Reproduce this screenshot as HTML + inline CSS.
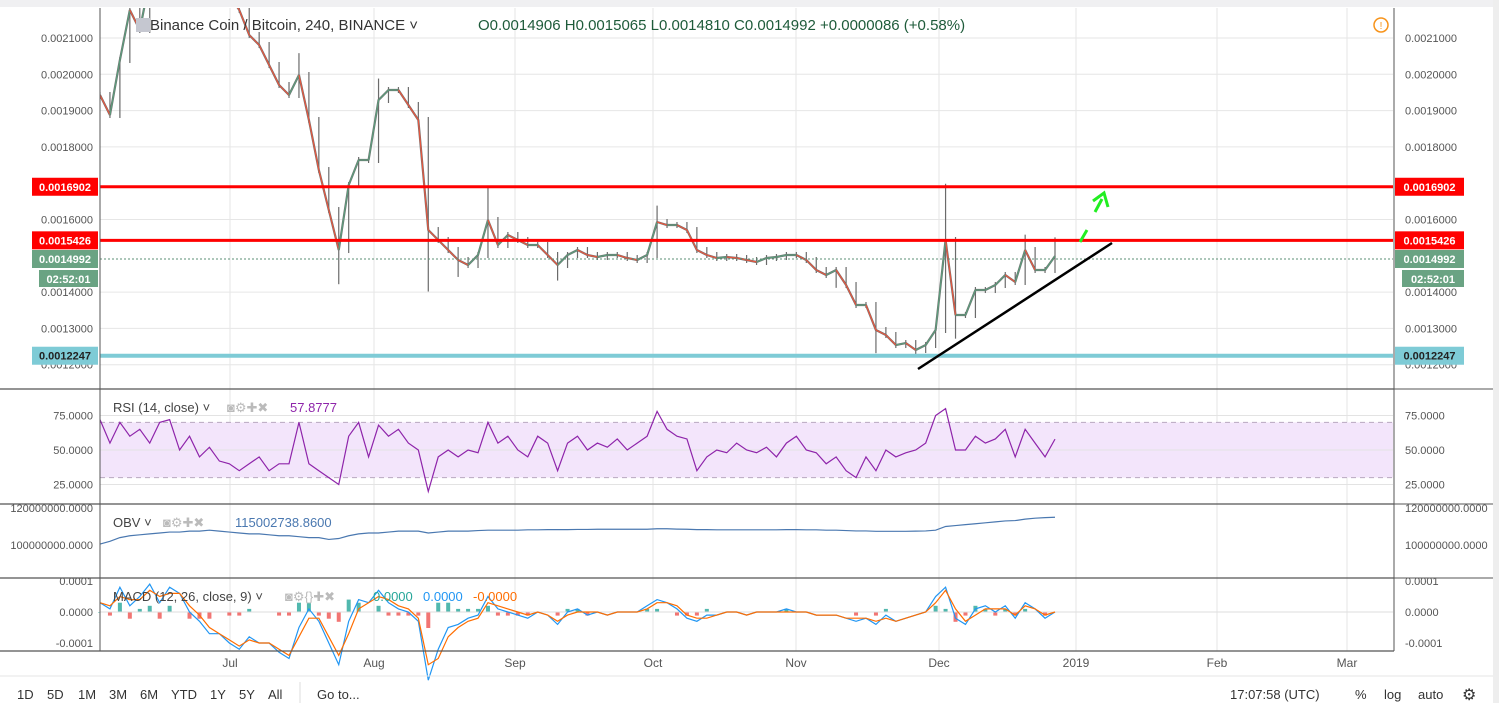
<!DOCTYPE html>
<html><head><meta charset="utf-8"><style>
body{margin:0;background:#fff;font-family:"Liberation Sans",sans-serif;}
#wrap{position:relative;width:1499px;height:703px;overflow:hidden;background:#fff}
svg text{font-family:"Liberation Sans",sans-serif}
</style></head><body>
<div id="wrap">
<svg id="c" width="1499" height="703">
<defs><clipPath id="mainclip"><rect x="100" y="8" width="1294" height="381"/></clipPath></defs>
</svg>
</div>
<script>
// ---- data ----
const closes=[0.0019430,0.0018879,0.0020394,0.0021771,0.0021220,0.0022598,0.0022873,0.0022735,0.0022460,0.0022598,0.0022322,0.0022598,0.0022322,0.0022185,0.0021771,0.0021083,0.0020807,0.0020256,0.0019705,0.0019430,0.0019981,0.0018741,0.0017363,0.0016261,0.0015159,0.0016950,0.0017639,0.0017639,0.0019292,0.0019567,0.0019567,0.0019154,0.0018741,0.0015710,0.0015435,0.0015159,0.0014884,0.0014746,0.0015022,0.0015986,0.0015297,0.0015573,0.0015435,0.0015297,0.0015297,0.0015022,0.0014746,0.0015022,0.0015159,0.0015022,0.0014967,0.0015022,0.0015022,0.0014939,0.0014884,0.0015022,0.0015931,0.0015848,0.0015848,0.0015710,0.0015159,0.0015022,0.0014939,0.0014967,0.0014939,0.0014884,0.0014829,0.0014939,0.0014967,0.0015022,0.0015022,0.0014884,0.0014609,0.0014471,0.0014609,0.0014195,0.0013644,0.0013644,0.0012955,0.0012818,0.0012542,0.0012597,0.0012404,0.0012542,0.0012955,0.0015435,0.0013369,0.0013369,0.0014057,0.0014057,0.0014195,0.0014471,0.0014278,0.0015159,0.0014609,0.0014609,0.0014992];
// notable wick extremes (index -> price)
const highIdx=[20,28,33,39,56,85,93,96];
const highVal=[0.0020500,0.0019800,0.0016950,0.0016800,0.0016300,0.0016902,0.0015500,0.0015426];
const lowIdx=[24,33,36,46,74,78,82,86];
const lowVal=[0.0014300,0.0014100,0.0014500,0.0014400,0.0014200,0.0012400,0.0012300,0.0012800];
const rsi=[72,55,70,60,65,55,70,72,50,60,45,52,42,40,35,40,45,35,40,40,70,40,35,30,25,60,70,45,68,60,65,55,50,20,45,50,45,50,48,70,55,60,50,45,60,55,35,55,60,50,55,52,58,50,55,60,78,65,60,58,35,45,50,48,55,50,48,52,45,55,60,50,48,40,45,35,30,45,35,50,45,48,50,55,75,80,50,50,60,55,58,65,45,65,55,45,57.88];
const obv=[100.5,102,104,105,105.5,106,106.5,107,107,107.5,107.5,108,107.5,107,106.5,106,106,105.5,105,105,104.5,104,104,103,103.5,105,106,106.5,106.5,107,107.5,107.5,107.5,106.5,107,107.5,107.5,107.5,107.8,108,108,108,108,108.2,108.2,108.3,108.3,108.3,108.4,108.4,108.5,108.5,108.5,108.5,108.5,108.5,108.8,108.8,108.6,108.5,108.3,108.3,108.2,108.2,108.2,108.2,108.2,108.2,108.2,108.3,108.3,108.2,108.2,108,108,107.8,107.6,107.6,107.4,107.4,107.4,107.4,107.5,107.6,108,110,110.5,111,111.5,112,112.5,113,113.2,114,114.5,114.8,115.0];
const macd=[3,1,8,2,5,9,3,8,6,0,-3,-7,-7,-10,-12,-8,-10,-10,-13,-15,-5,1,-3,-10,-17,-3,4,3,7,3,1,0,-3,-22,-12,-5,-4,-2,-1,5,1,0,-1,-2,0,-1,-4,0,1,-1,0,-1,0,0,0,2,4,3,1,-2,-3,-1,-1,0,0,-1,0,0,0,1,0,0,-1,-1,-1,-2,-3,-2,-4,-1,-3,-2,-1,0,5,8,-2,-4,1,2,0,2,-2,3,1,-2,0];
const signal=[3,2,5,4,4,7,5,6,6,2,-1,-5,-7,-9,-11,-9,-10,-10,-12,-14,-8,-2,-2,-8,-14,-7,1,3,5,4,2,1,-2,-17,-15,-8,-5,-3,-2,3,2,1,0,-1,0,-1,-3,-1,0,0,0,-1,0,0,0,1,3,3,2,-1,-2,-2,-1,0,0,-1,0,0,0,0,0,0,-1,-1,-1,-2,-2,-2,-3,-2,-3,-2,-1,0,3,7,1,-3,-1,1,1,1,-1,2,1,-1,0];
const monthLabels=["Jul","Aug","Sep","Oct","Nov","Dec","2019","Feb","Mar"];
const monthIdx=[13.0,27.4,41.5,55.3,69.6,83.9,97.6,111.7,124.7];
const priceTicks=[0.0021,0.0020,0.0019,0.0018,0.0016,0.0014,0.0013,0.0012];
const rsiTicks=[75,50,25];
const obvTicks=[120,100];
const macdTicks=[0.0001,0,-0.0001];

// ---- scales ----
const X0=100,X1=1393;
const xs=i=>100+i*(955/96);
const py=p=>38+(0.0021-p)*363000;
const ry=v=>450-(v-50)*1.38;
const oy=v=>545-(v-100)*1.85;
const my=v=>612-v*0.31;
const NS="http://www.w3.org/2000/svg";
const svg=document.getElementById('c');
function el(t,a,txt,parent){const e=document.createElementNS(NS,t);for(const k in a)e.setAttribute(k,a[k]);if(txt!==undefined&&txt!==null)e.textContent=txt;(parent||svg).appendChild(e);return e;}

monthIdx.forEach((m,i)=>{const x=100+m*10;
 const g=el('line',{x1:x,y1:8,x2:x,y2:651,stroke:'#e6e6e6','stroke-width':1});
 
 
 const t=el('text',{x:x,y:667,'font-size':12,fill:'#555','text-anchor':'middle'},monthLabels[i]);
 
 
});
priceTicks.forEach(p=>{const y=py(p);
 el('line',{x1:X0,y1:y,x2:X1,y2:y,stroke:'#e6e6e6'});
 const a=el('text',{x:93,y:y+4,'font-size':11,fill:'#555','text-anchor':'end'},p.toFixed(7));
 
 
 const b=el('text',{x:1405,y:y+4,'font-size':11,fill:'#555'},p.toFixed(7));
 
 
});
const band=el('rect',{x:X0,y:ry(70),width:X1-X0,height:ry(30)-ry(70),fill:'#f3e5fb'});


[70,30].forEach(v=>el('line',{x1:X0,y1:ry(v),x2:X1,y2:ry(v),stroke:'#b9a9c0','stroke-dasharray':'5,4'}));
rsiTicks.forEach(v=>{const y=ry(v);el('line',{x1:X0,y1:y,x2:X1,y2:y,stroke:'#e3e3e3'});
 el('text',{x:93,y:y+4,'font-size':11,fill:'#555','text-anchor':'end'},v.toFixed(4));
 el('text',{x:1405,y:y+4,'font-size':11,fill:'#555'},v.toFixed(4));});
obvTicks.forEach(v=>{const y=oy(v);
 el('text',{x:93,y:y+4,'font-size':11,fill:'#555','text-anchor':'end'},(v*1e6).toFixed(4));
 el('text',{x:1405,y:y+4,'font-size':11,fill:'#555'},(v*1e6).toFixed(4));});
macdTicks.forEach(v=>{const y=my(v*1e5*10);
 el('text',{x:93,y:y+4,'font-size':11,fill:'#555','text-anchor':'end'},v.toFixed(4));
 el('text',{x:1405,y:y+4,'font-size':11,fill:'#555'},v.toFixed(4));});

// price series: dense thin candles (clipped)
const g=el('g',{'clip-path':'url(#mainclip)'});


const path=closes.map((c,i)=>xs(i)+','+py(c)).join(' ');
el('polyline',{points:path,fill:'none',stroke:'#707070','stroke-width':2.2,'stroke-linejoin':'bevel'},null,g);
for(let i=0;i<closes.length;i++){
 const o=i?closes[i-1]:closes[0], c=closes[i];
 const x=xs(i); const up=c>=o;
 let hi=Math.max(o,c), lo=Math.min(o,c);
 const hk=highIdx.indexOf(i); if(hk>=0)hi=Math.max(hi,highVal[hk]);
 const lk=lowIdx.indexOf(i); if(lk>=0)lo=Math.min(lo,lowVal[lk]);
 const w=el('line',{x1:x,y1:py(hi)-3,x2:x,y2:py(lo)+3,stroke:'#6b6b6b','stroke-width':1.2},null,g);
 
 
 const x0=xs(i-1>=0?i-1:0);
 const r=el('line',{x1:x0,y1:py(o),x2:x,y2:py(c),stroke:up?'#5c9d7c':'#e8573f','stroke-width':1.2},null,g);
 
 
}
function poly(arr,f,color,name,w){const pts=arr.map((v,i)=>xs(i)+','+f(v)).join(' ');
 const p=el('polyline',{points:pts,fill:'none',stroke:color,'stroke-width':w||1.2});
 
 }
poly(rsi,ry,'#8e24aa','rsi-line');
poly(obv,oy,'#4a78b0','obv-line');
for(let i=0;i<macd.length;i++){const h=(macd[i]-signal[i]);
 const y0=my(0),y1=my(h*10);
 const r=el('rect',{x:xs(i)-2,y:Math.min(y0,y1),width:4,height:Math.abs(y1-y0)+0.5,fill:h>=0?'#26a69a':'#ef5350',opacity:0.8});
 
 }
el('line',{x1:X0,y1:my(0),x2:X1,y2:my(0),stroke:'#ddd'});
poly(macd,v=>my(v*10),'#2196f3','macd-line');
poly(signal,v=>my(v*10),'#ff6d00','signal-line');

function hline(y,color,w,name,label,lc){const l=el('line',{x1:X0,y1:y,x2:X1,y2:y,stroke:color,'stroke-width':w});
 
 if(label){[[32,98],[1395,1464]].forEach(([a,b])=>{el('rect',{x:a,y:y-9,width:b-a,height:18,fill:lc});
  el('text',{x:(a+b)/2,y:y+4,'font-size':11,'font-weight':'bold',fill:lc=='#7ecbd6'?'#222':'#fff','text-anchor':'middle'},label);});}}
el('line',{x1:X0,y1:259,x2:X1,y2:259,stroke:'#5b8f74','stroke-dasharray':'2,2'});
hline(py(0.0016902),'#ff0000',3,'resistance-line-high','0.0016902','#ff0000');
hline(py(0.0015426),'#ff0000',3,'resistance-line','0.0015426','#ff0000');
hline(py(0.0012247),'#7ecbd6',4,'support-line','0.0012247','#7ecbd6');
[[32,98],[1395,1464]].forEach(([a,b])=>{el('rect',{x:a,y:250,width:b-a,height:18,fill:'#6aa383'});
 el('text',{x:(a+b)/2,y:263,'font-size':11,'font-weight':'bold',fill:'#fff','text-anchor':'middle'},'0.0014992');
 el('rect',{x:a+7,y:270,width:b-a-7,height:17,fill:'#6aa383'});
 el('text',{x:(a+b+7)/2,y:283,'font-size':11,'font-weight':'bold',fill:'#fff','text-anchor':'middle'},'02:52:01');});
const tl=el('line',{x1:918,y1:369,x2:1112,y2:243,stroke:'#000','stroke-width':2.5});

el('line',{x1:1080,y1:242,x2:1087,y2:230,stroke:'#22ee22','stroke-width':3});
el('line',{x1:1095,y1:212,x2:1102,y2:199,stroke:'#22ee22','stroke-width':3});
el('polyline',{points:'1093,201 1104,193 1108,207',fill:'none',stroke:'#22ee22','stroke-width':3});

[[389],[504],[578],[651]].forEach(([y])=>el('line',{x1:0,y1:y,x2:1394,y2:y,stroke:'#555','stroke-width':1.2}));
el('line',{x1:1394,y1:389,x2:1499,y2:389,stroke:'#555'});el('line',{x1:1394,y1:504,x2:1499,y2:504,stroke:'#555'});el('line',{x1:1394,y1:578,x2:1499,y2:578,stroke:'#555'});
el('line',{x1:X0,y1:8,x2:X0,y2:651,stroke:'#555'});
el('line',{x1:1394,y1:8,x2:1394,y2:651,stroke:'#555'});
el('rect',{x:0,y:0,width:1499,height:7,fill:'#f0f0f2'});
el('rect',{x:1493,y:0,width:6,height:703,fill:'#eeeeee'});
el('line',{x1:0,y1:676,x2:1493,y2:676,stroke:'#e6e6e6'});

const hd=el('text',{x:150,y:30,'font-size':15,fill:'#333'},'Binance Coin / Bitcoin, 240, BINANCE ˅');

el('rect',{x:136,y:18,width:14,height:14,fill:'#c5c7d0'});
el('text',{x:478,y:30,'font-size':15,fill:'#1e5b3a'},'O0.0014906  H0.0015065  L0.0014810  C0.0014992  +0.0000086 (+0.58%)');
el('circle',{cx:1381,cy:25,r:7,fill:'none',stroke:'#f7931a','stroke-width':1.5});
el('text',{x:1381,y:29,'font-size':10,fill:'#f7931a','text-anchor':'middle'},'!');
el('text',{x:113,y:412,'font-size':13,fill:'#444'},'RSI (14, close) ˅');
el('text',{x:227,y:412,'font-size':13,fill:'#bbb'},'◙⚙✚✖');
el('text',{x:290,y:412,'font-size':13,fill:'#8e24aa'},'57.8777');
el('text',{x:113,y:527,'font-size':13,fill:'#444'},'OBV ˅');
el('text',{x:163,y:527,'font-size':13,fill:'#bbb'},'◙⚙✚✖');
el('text',{x:235,y:527,'font-size':13,fill:'#4a78b0'},'115002738.8600');
el('text',{x:113,y:601,'font-size':13,fill:'#444'},'MACD (12, 26, close, 9) ˅');
el('text',{x:285,y:601,'font-size':13,fill:'#bbb'},'◙⚙{}✚✖');
el('text',{x:373,y:601,'font-size':13,fill:'#26a69a'},'0.0000');
el('text',{x:423,y:601,'font-size':13,fill:'#2196f3'},'0.0000');
el('text',{x:473,y:601,'font-size':13,fill:'#ff6d00'},'-0.0000');
const btns=['1D','5D','1M','3M','6M','YTD','1Y','5Y','All'];
const bx=[17,47,78,109,140,171,210,239,268];
btns.forEach((b,i)=>{const t=el('text',{x:bx[i],y:699,'font-size':13,fill:'#333'},b);
 
 });
el('line',{x1:300,y1:682,x2:300,y2:703,stroke:'#ddd'});
const gt=el('text',{x:317,y:699,'font-size':13,fill:'#333'},'Go to...');

el('text',{x:1230,y:699,'font-size':13,fill:'#333'},'17:07:58 (UTC)');
el('text',{x:1355,y:699,'font-size':13,fill:'#333'},'%');
el('text',{x:1384,y:699,'font-size':13,fill:'#333'},'log');
el('text',{x:1418,y:699,'font-size':13,fill:'#333'},'auto');
el('text',{x:1462,y:700,'font-size':16,fill:'#333'},'⚙');
</script>
</body></html>
